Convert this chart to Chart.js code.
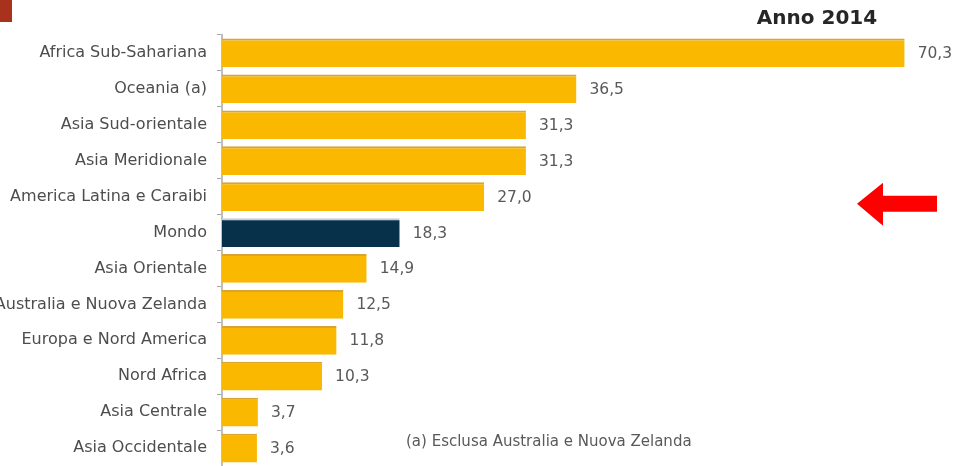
<!DOCTYPE html>
<html>
<head>
<meta charset="utf-8">
<script src="https://cdn.jsdelivr.net/npm/chart.js@4.4.1/dist/chart.umd.min.js"></script>
<style>
  html, body { margin: 0; padding: 0; background: #fff; overflow: hidden; }
  #wrap { position: relative; width: 961px; height: 466px; }
</style>
</head>
<body>
<div id="wrap"><canvas id="chart" width="961" height="466"></canvas></div>
<script>
const regions = [
    "Africa Sub-Sahariana",
    "Oceania (a)",
    "Asia Sud-orientale",
    "Asia Meridionale",
    "America Latina e Caraibi",
    "Mondo",
    "Asia Orientale",
    "Australia e Nuova Zelanda",
    "Europa e Nord America",
    "Nord Africa",
    "Asia Centrale",
    "Asia Occidentale"
];
const values = [70.3, 36.5, 31.3, 31.3, 27.0, 18.3, 14.9, 12.5, 11.8, 10.3, 3.7, 3.6];
const highlight = "Mondo";
const title = "Anno 2014";
const footnote = "(a) Esclusa Australia e Nuova Zelanda";

const gold = "#FAB900";
const navy = "#07304A";

// value labels at the end of each bar, with a decimal comma
const valueLabels = {
    id: "valueLabels",
    afterDatasetsDraw(chart) {
        const ctx = chart.ctx;
        const meta = chart.getDatasetMeta(0);
        ctx.save();
        ctx.font = "15.5px 'DejaVu Sans'";
        ctx.fillStyle = "#595959";
        ctx.textBaseline = "middle";
        ctx.textAlign = "left";
        meta.data.forEach((bar, i) => {
            ctx.fillText(values[i].toFixed(1).replace(".", ","), bar.x + 13, bar.y + 1);
        });
        ctx.restore();
    }
};

// title, footnote, corner mark and arrow pointing at the world average
const decorations = {
    id: "decorations",
    afterDraw(chart) {
        const ctx = chart.ctx;
        ctx.save();

        ctx.fillStyle = "#A8321B";
        ctx.fillRect(0, 0, 12, 22);

        ctx.fillStyle = "#262626";
        ctx.font = "bold 20px 'DejaVu Sans'";
        ctx.textAlign = "center";
        ctx.textBaseline = "middle";
        ctx.fillText(title, 817, 19);

        ctx.fillStyle = "#595959";
        ctx.font = "15px 'DejaVu Sans'";
        ctx.textAlign = "left";
        ctx.fillText(footnote, 406, 442);

        const y = chart.scales.y.getPixelForValue(regions.indexOf("America Latina e Caraibi"));
        const cy = y + 7;
        ctx.fillStyle = "#FF0000";
        ctx.beginPath();
        ctx.moveTo(857, cy);
        ctx.lineTo(883, cy - 21);
        ctx.lineTo(883, cy - 8);
        ctx.lineTo(937, cy - 8);
        ctx.lineTo(937, cy + 8);
        ctx.lineTo(883, cy + 8);
        ctx.lineTo(883, cy + 22);
        ctx.closePath();
        ctx.fill();

        ctx.restore();
    }
};

new Chart(document.getElementById("chart"), {
    type: "bar",
    data: {
        labels: regions,
        datasets: [{
            data: values,
            backgroundColor: regions.map(r => r === highlight ? navy : gold),
            borderColor: regions.map(r => r === highlight ? "#C9CDD1" : "#D6A536"),
            borderWidth: { top: 2, right: 0, bottom: 0, left: 0 },
            borderSkipped: false,
            barPercentage: 0.8,
            categoryPercentage: 1.0
        }]
    },
    options: {
        indexAxis: "y",
        responsive: false,
        animation: false,
        layout: { padding: { top: 35, right: 1, bottom: 0, left: 0 } },
        plugins: {
            legend: { display: false },
            tooltip: { enabled: false }
        },
        scales: {
            x: {
                display: false,
                min: 0,
                max: 76
            },
            y: {
                afterFit(scale) {
                    scale.width = 222;
                    scale.paddingTop = 0;
                    scale.paddingBottom = 0;
                },
                border: { display: true, color: "#BFBFBF", width: 2 },
                grid: {
                    offset: true,
                    drawOnChartArea: false,
                    drawTicks: true,
                    tickLength: 5,
                    color: "#A6A6A6"
                },
                ticks: {
                    color: "#4D4D4D",
                    padding: 10,
                    font: { family: "'DejaVu Sans'", size: 16 }
                }
            }
        }
    },
    plugins: [valueLabels, decorations]
});
</script>
</body>
</html>
